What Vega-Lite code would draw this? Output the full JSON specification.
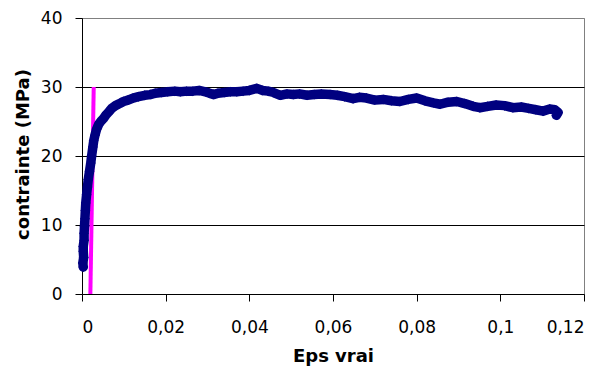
{
  "$schema": "https://vega.github.io/schema/vega-lite/v6.json",
  "width": 502,
  "height": 276,
  "autosize": {"type": "none"},
  "padding": {"left": 82, "top": 18, "right": 22, "bottom": 83},
  "background": "white",
  "datasets": {
    "courbe": [
      {"eps": 0.0003, "sigma": 3.9}, {"eps": 0.0002, "sigma": 4.5}, {"eps": 0.0004, "sigma": 5.3},
      {"eps": 0.0003, "sigma": 6.2}, {"eps": 0.0003, "sigma": 6.9}, {"eps": 0.0005, "sigma": 7.8},
      {"eps": 0.0005, "sigma": 8.8}, {"eps": 0.0006, "sigma": 9.8}, {"eps": 0.0007, "sigma": 10.9},
      {"eps": 0.0008, "sigma": 12.1}, {"eps": 0.0009, "sigma": 13.2}, {"eps": 0.0011, "sigma": 14.4},
      {"eps": 0.0013, "sigma": 15.5}, {"eps": 0.0015, "sigma": 16.6}, {"eps": 0.0018, "sigma": 17.8},
      {"eps": 0.0021, "sigma": 19.0}, {"eps": 0.0023, "sigma": 20.0}, {"eps": 0.0026, "sigma": 21.3},
      {"eps": 0.0028, "sigma": 22.2}, {"eps": 0.0031, "sigma": 23.0}, {"eps": 0.0035, "sigma": 23.9},
      {"eps": 0.0040, "sigma": 24.6}, {"eps": 0.0046, "sigma": 25.1}, {"eps": 0.0051, "sigma": 25.4},
      {"eps": 0.0058, "sigma": 26.0}, {"eps": 0.0064, "sigma": 26.4}, {"eps": 0.0071, "sigma": 26.9},
      {"eps": 0.0080, "sigma": 27.3}, {"eps": 0.0090, "sigma": 27.6}, {"eps": 0.0099, "sigma": 27.9},
      {"eps": 0.0110, "sigma": 28.1}, {"eps": 0.0122, "sigma": 28.4}, {"eps": 0.0135, "sigma": 28.6},
      {"eps": 0.0150, "sigma": 28.8}, {"eps": 0.0163, "sigma": 28.9}, {"eps": 0.0175, "sigma": 29.1},
      {"eps": 0.0190, "sigma": 29.2}, {"eps": 0.0205, "sigma": 29.3}, {"eps": 0.0222, "sigma": 29.4},
      {"eps": 0.0235, "sigma": 29.3}, {"eps": 0.0250, "sigma": 29.4}, {"eps": 0.0265, "sigma": 29.4},
      {"eps": 0.0280, "sigma": 29.5}, {"eps": 0.0295, "sigma": 29.3}, {"eps": 0.0305, "sigma": 29.1},
      {"eps": 0.0314, "sigma": 28.9}, {"eps": 0.0325, "sigma": 29.1}, {"eps": 0.0340, "sigma": 29.2},
      {"eps": 0.0355, "sigma": 29.3}, {"eps": 0.0370, "sigma": 29.3}, {"eps": 0.0385, "sigma": 29.4},
      {"eps": 0.0400, "sigma": 29.5}, {"eps": 0.0418, "sigma": 29.8}, {"eps": 0.0432, "sigma": 29.5},
      {"eps": 0.0445, "sigma": 29.4}, {"eps": 0.0458, "sigma": 29.2}, {"eps": 0.0474, "sigma": 28.8},
      {"eps": 0.0490, "sigma": 29.0}, {"eps": 0.0505, "sigma": 28.9}, {"eps": 0.0520, "sigma": 29.0},
      {"eps": 0.0538, "sigma": 28.8}, {"eps": 0.0555, "sigma": 28.9}, {"eps": 0.0572, "sigma": 29.0},
      {"eps": 0.0593, "sigma": 28.9}, {"eps": 0.0610, "sigma": 28.8}, {"eps": 0.0628, "sigma": 28.6},
      {"eps": 0.0648, "sigma": 28.3}, {"eps": 0.0663, "sigma": 28.5}, {"eps": 0.0680, "sigma": 28.4},
      {"eps": 0.0700, "sigma": 28.1}, {"eps": 0.0720, "sigma": 28.2}, {"eps": 0.0740, "sigma": 28.0},
      {"eps": 0.0760, "sigma": 27.9}, {"eps": 0.0780, "sigma": 28.2}, {"eps": 0.0800, "sigma": 28.4},
      {"eps": 0.0820, "sigma": 28.0}, {"eps": 0.0840, "sigma": 27.7}, {"eps": 0.0856, "sigma": 27.5},
      {"eps": 0.0875, "sigma": 27.8}, {"eps": 0.0896, "sigma": 27.9}, {"eps": 0.0915, "sigma": 27.6},
      {"eps": 0.0935, "sigma": 27.2}, {"eps": 0.0951, "sigma": 27.0}, {"eps": 0.0970, "sigma": 27.2},
      {"eps": 0.0990, "sigma": 27.4}, {"eps": 0.1010, "sigma": 27.3}, {"eps": 0.1030, "sigma": 27.0},
      {"eps": 0.1050, "sigma": 27.1}, {"eps": 0.1068, "sigma": 26.9}, {"eps": 0.1085, "sigma": 26.7},
      {"eps": 0.1102, "sigma": 26.5}, {"eps": 0.1118, "sigma": 26.8}, {"eps": 0.1130, "sigma": 26.7},
      {"eps": 0.1138, "sigma": 26.3}, {"eps": 0.1134, "sigma": 25.9}
    ],
    "droite": [
      {"eps": 0.0020, "sigma": 0},
      {"eps": 0.0028, "sigma": 30}
    ]
  },
  "layer": [
    {
      "data": {"name": "droite"},
      "mark": {"type": "line", "color": "#FF00FF", "strokeWidth": 4},
      "encoding": {
        "x": {"field": "eps", "type": "quantitative"},
        "y": {"field": "sigma", "type": "quantitative"}
      }
    },
    {
      "data": {"name": "courbe"},
      "mark": {"type": "line", "color": "#000080", "strokeWidth": 9.5, "strokeJoin": "round", "strokeCap": "round"},
      "encoding": {
        "x": {"field": "eps", "type": "quantitative"},
        "y": {"field": "sigma", "type": "quantitative"},
        "order": {"value": null}
      }
    },
    {
      "data": {"name": "courbe"},
      "mark": {"type": "point", "shape": "diamond", "filled": true, "color": "#000080", "size": 100, "opacity": 1},
      "encoding": {
        "x": {
          "field": "eps", "type": "quantitative",
          "scale": {"domain": [0, 0.12], "nice": false, "zero": false},
          "axis": {
            "values": [0, 0.02, 0.04, 0.06, 0.08, 0.1, 0.12],
            "labelExpr": "replace(format(datum.value, '.2~f'), '.', ',')",
            "title": "Eps vrai",
            "grid": false,
            "titleY": 67,
            "titleBaseline": "alphabetic",
            "labelPadding": 18,
            "tickSize": 7
          }
        },
        "y": {
          "field": "sigma", "type": "quantitative",
          "scale": {"domain": [0, 40], "nice": false, "zero": true},
          "axis": {
            "values": [0, 10, 20, 30, 40],
            "title": "contrainte (MPa)",
            "grid": true,
            "gridColor": {"condition": {"test": "datum.value === 40 || datum.value === 0", "value": "#808080"}, "value": "#000000"},
            "titleX": -54,
            "titleY": 136,
            "titleBaseline": "alphabetic",
            "labelPadding": 13,
            "tickSize": 7
          }
        }
      }
    }
  ],
  "config": {
    "view": {"stroke": "#808080", "strokeWidth": 1},
    "axis": {
      "domainColor": "#000000",
      "tickColor": "#000000",
      "labelColor": "#000000",
      "titleColor": "#000000",
      "labelFont": "DejaVu Sans",
      "labelFontSize": 17,
      "titleFont": "DejaVu Sans",
      "titleFontSize": 18,
      "titleFontWeight": "bold",
      "gridWidth": 1,
      "domainWidth": 1,
      "tickWidth": 1
    }
  }
}
